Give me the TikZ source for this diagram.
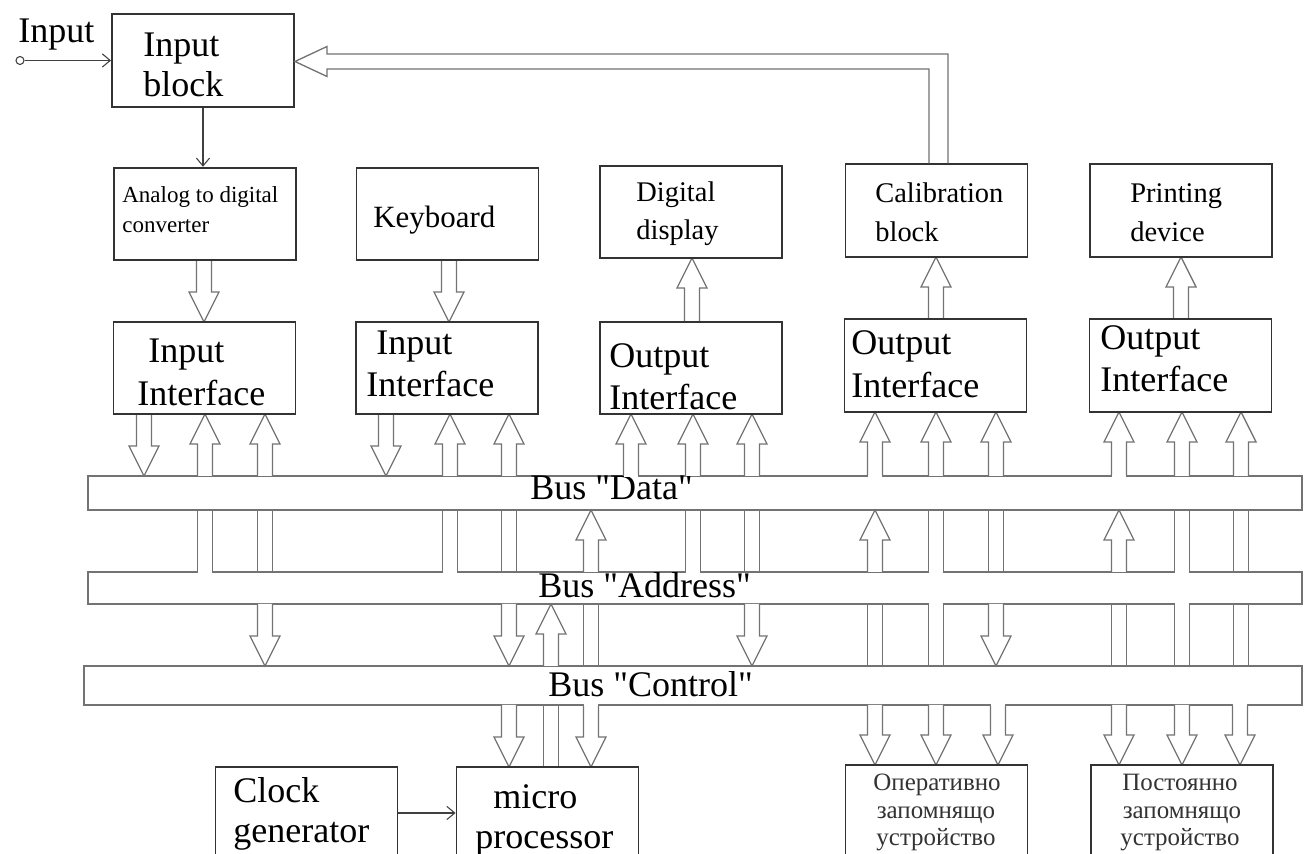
\documentclass[tikz,border=0pt]{standalone}
\usepackage{fontspec}
\setmainfont{Liberation Serif}[Ligatures=TeXOff]
\usetikzlibrary{arrows.meta}

\newcommand{\cabup}[3]{\filldraw[cab] (#1-7.5,#3) -- (#1-7.5,#2+30) -- (#1-15,#2+30) -- (#1,#2) -- (#1+15,#2+30) -- (#1+7.5,#2+30) -- (#1+7.5,#3);}
\newcommand{\cabdn}[3]{\filldraw[cab] (#1-7.5,#2) -- (#1-7.5,#3-30) -- (#1-15,#3-30) -- (#1,#3) -- (#1+15,#3-30) -- (#1+7.5,#3-30) -- (#1+7.5,#2);}
\newcommand{\cabsh}[3]{\draw[cab] (#1-7.5,#2) -- (#1-7.5,#3) (#1+7.5,#2) -- (#1+7.5,#3);}
\newcommand{\cabgap}[2]{\fill[white] (#1-6.6,#2-1.2) rectangle (#1+6.6,#2+1.2);}

\tikzset{
  blk/.style={draw=black!80, line width=1.1pt, fill=white, minimum width=3.64cm, minimum height=1.85cm, inner sep=0pt},
  bus/.style={draw=black!55, line width=0.75pt, fill=white, inner sep=0pt},
  cab/.style={draw=black!55, line width=0.75pt, fill=white},
  thinarr/.style={draw=black!75, line width=0.6pt, -{Straight Barb[length=4.5pt,width=7.5pt]}},
  big/.style={font=\fontsize{20.5}{24}\selectfont, inner sep=0pt, anchor=base west},
  kbd/.style={font=\fontsize{17.6}{21}\selectfont, inner sep=0pt, anchor=base west},
  mid/.style={font=\fontsize{16.2}{19}\selectfont, inner sep=0pt, anchor=base west},
  sml/.style={font=\fontsize{13.1}{16}\selectfont, inner sep=0pt, anchor=base west},
  cyr/.style={font=\fontsize{14.2}{17}\selectfont, text=black!80, inner sep=0pt, anchor=base}
}

\begin{document}
\begin{tikzpicture}[x=0.02cm, y=-0.02cm]
    \useasboundingbox (0,0) rectangle (1309,854);
    \clip (0,0) rectangle (1309,854);
    \fill[white] (0,0) rectangle (1309,854);

    \node[bus, minimum width=24.28cm, minimum height=0.68cm] (data) at (695,493) {};
    \node[bus, minimum width=24.28cm, minimum height=0.64cm] (addr) at (695,588) {};
    \node[bus, minimum width=24.36cm, minimum height=0.78cm] (ctrl) at (693,685.5) {};
    \node[big] (datat) at (530,500) {Bus "Data"};
    \node[big] (addrt) at (538,598) {Bus "Address"};
    \node[big] (ctrlt) at (548,697) {Bus "Control"};

    % top row to interfaces
    \cabdn{204}{260}{322}
    \cabdn{449}{260}{322}
    \cabup{692}{258}{322}
    \cabup{936}{257}{319}
    \cabup{1181}{257}{319}

    % interfaces to bus "Data"
    \cabdn{144}{414}{476}
    \cabup{205}{414}{476}
    \cabup{265}{414}{476}
    \cabdn{386}{414}{476}
    \cabup{450}{414}{476}
    \cabup{509}{414}{476}
    \cabup{631}{414}{476} \cabgap{631}{476}
    \cabup{693}{414}{476}
    \cabup{752}{414}{476}
    \cabup{875}{412}{476} \cabgap{875}{476}
    \cabup{936}{412}{476}
    \cabup{996}{412}{476}
    \cabup{1119}{412}{476} \cabgap{1119}{476}
    \cabup{1182}{412}{476}
    \cabup{1241}{412}{476}

    % bus "Data" to bus "Address"
    \cabsh{205}{510}{572} \cabgap{205}{572}
    \cabsh{265}{510}{572}
    \cabsh{450}{510}{572} \cabgap{450}{572}
    \cabsh{509}{510}{572}
    \cabup{591}{510}{572}
    \cabsh{693}{510}{572} \cabgap{693}{572}
    \cabsh{752}{510}{572}
    \cabup{875}{510}{572}
    \cabsh{936}{510}{572} \cabgap{936}{572}
    \cabsh{996}{510}{572}
    \cabup{1119}{510}{572}
    \cabsh{1182}{510}{572} \cabgap{1182}{572}
    \cabsh{1241}{510}{572}

    % bus "Address" to bus "Control"
    \cabdn{265}{604}{666}
    \cabdn{509}{604}{666}
    \cabup{551}{604}{666}
    \cabsh{591}{604}{666}
    \cabdn{752}{604}{666}
    \cabsh{875}{604}{666}
    \cabsh{936}{604}{666} \cabgap{936}{604}
    \cabdn{996}{604}{666}
    \cabsh{1119}{604}{666}
    \cabsh{1182}{604}{666} \cabgap{1182}{604}
    \cabsh{1241}{604}{666}

    % bus "Control" to the lower blocks
    \cabdn{509}{705}{767}
    \cabsh{551}{705}{767}
    \cabdn{591}{705}{767} \cabgap{591}{705}
    \cabdn{875}{705}{765}
    \cabdn{936}{705}{765}
    \cabdn{998}{705}{765} \cabgap{998}{705}
    \cabdn{1119}{705}{765}
    \cabdn{1182}{705}{765}
    \cabdn{1240}{705}{765} \cabgap{1240}{705}

    \node[blk] (ib) at (203,60.5) {};
    \node[blk] (adc) at (205,214) {};
    \node[blk] (kb) at (447.5,214) {};
    \node[blk] (dd) at (691,212) {};
    \node[blk] (cal) at (936.5,210.5) {};
    \node[blk] (prn) at (1181,210.5) {};
    \node[blk] (ii1) at (204.5,368) {};
    \node[blk] (ii2) at (447,368) {};
    \node[blk] (oi1) at (691,368) {};
    \node[blk] (oi2) at (935.5,365.5) {};
    \node[blk] (oi3) at (1180.5,365.5) {};
    \node[blk] (clk) at (306.5,813) {};
    \node[blk] (mp) at (547.5,813) {};
    \node[blk] (ram) at (936.5,811) {};
    \node[blk] (rom) at (1182,811) {};

    \node[circle, draw=black!75, line width=0.6pt, minimum size=0.16cm, inner sep=0pt] (inp) at (20,60.5) {};
    \draw[thinarr] (inp) -- (ib);
    \draw[thinarr] (ib.south) -- (ib.south |- adc.north);
    \draw[thinarr] (clk) -- (mp);
    \draw[cab, fill=none] (948,0 |- cal.north) -- (948,54) -- (327,54) -- (327,46.5) -- (ib.east |- 0,61.5) -- (327,76.5) -- (327,69) -- (929,69) -- (929,0 |- cal.north);

    \node[big] (inlbl) at (18,43) {Input};
    \node[big] (ibt1) at (143,57) {Input};
    \node[big] (ibt2) at (143,97) {block};
    \node[sml] (adct1) at (122,203) {Analog to digital};
    \node[sml] (adct2) at (122,233) {converter};
    \node[kbd] (kbt) at (373,228) {Keyboard};
    \node[mid] (ddt1) at (636,202) {Digital};
    \node[mid] (ddt2) at (636,240) {display};
    \node[mid] (calt1) at (875,203) {Calibration};
    \node[mid] (calt2) at (875,242) {block};
    \node[mid] (prnt1) at (1130,203) {Printing};
    \node[mid] (prnt2) at (1130,242) {device};
    \node[big] (ii1t1) at (148,363) {Input};
    \node[big] (ii1t2) at (137,406) {Interface};
    \node[big] (ii2t1) at (376,355) {Input};
    \node[big] (ii2t2) at (366,397) {Interface};
    \node[big] (oi1t1) at (609,368) {Output};
    \node[big] (oi1t2) at (609,410) {Interface};
    \node[big] (oi2t1) at (851,355) {Output};
    \node[big] (oi2t2) at (851,398) {Interface};
    \node[big] (oi3t1) at (1100,350) {Output};
    \node[big] (oi3t2) at (1100,392) {Interface};
    \node[big] (clkt1) at (233,802) {Clock};
    \node[big] (clkt2) at (233,842) {generator};
    \node[big] (mpt1) at (493,808) {micro};
    \node[big] (mpt2) at (475,848) {processor};
    \node[cyr] (ramt1) at (937,790) {Оперативно};
    \node[cyr] (ramt2) at (936,818) {запомнящо};
    \node[cyr] (ramt3) at (936,845) {устройство};
    \node[cyr] (romt1) at (1180,790) {Постоянно};
    \node[cyr] (romt2) at (1182,818) {запомнящо};
    \node[cyr] (romt3) at (1180,845) {устройство};
\end{tikzpicture}
\end{document}
